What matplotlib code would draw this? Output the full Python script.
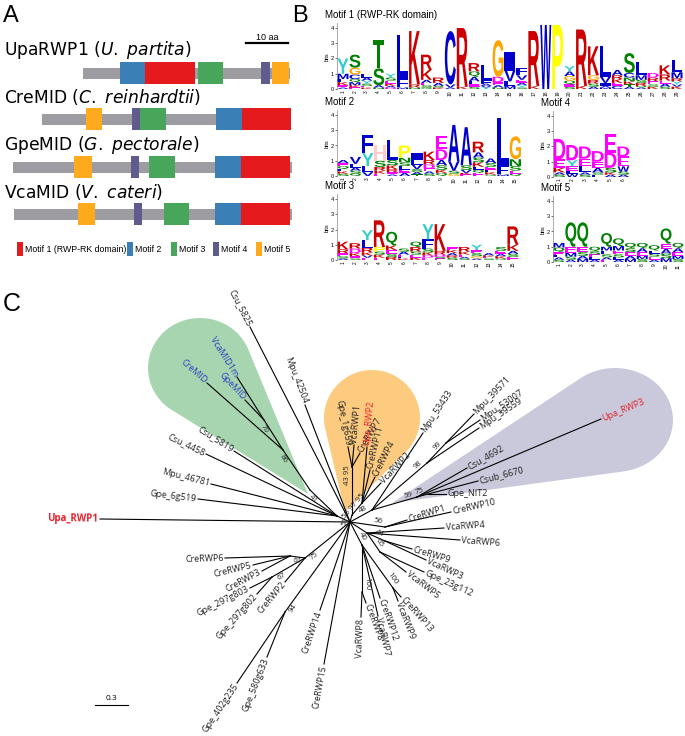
#!/usr/bin/env python3
"""
Motif architecture (A), MEME sequence logos (B) and unrooted RWP-RK tree (C).
"""
import numpy as np
import matplotlib
matplotlib.use("Agg")
import matplotlib.pyplot as plt
from matplotlib.patches import Rectangle, PathPatch, Polygon
from matplotlib.textpath import TextPath
from matplotlib.font_manager import FontProperties
from matplotlib.transforms import Affine2D

plt.rcParams["font.family"] = ["Liberation Sans", "DejaVu Sans"]
plt.rcParams["mathtext.fontset"] = "custom"
plt.rcParams["mathtext.rm"] = "DejaVu Sans"
plt.rcParams["mathtext.it"] = "DejaVu Sans:italic"

# ---------------- panel A data (positions in aa) ----------------
proteins = ["UpaRWP1", "CreMID", "GpeMID", "VcaMID"]
species = ["U. partita", "C. reinhardtii", "G. pectorale", "V. cateri"]
protein_span = [(16.7, 66.0), (6.9, 66.2), (0.0, 66.4), (0.2, 66.4)]
motif1_pos = [(31.4, 43.3), (54.5, 66.2), (54.3, 66.0), (54.3, 66.0)]
motif2_pos = [(25.5, 31.4), (48.3, 54.5), (48.1, 54.3), (48.1, 54.3)]
motif3_pos = [(44.0, 50.0), (30.2, 36.4), (32.4, 38.6), (36.0, 41.9)]
motif4_pos = [(59.0, 61.2), (28.3, 30.2), (28.1, 30.0), (28.8, 30.7)]
motif5_pos = [(61.7, 65.7), (17.4, 21.2), (14.5, 18.8), (15.5, 19.5)]
motif_names = ["Motif 1 (RWP-RK domain)", "Motif 2", "Motif 3", "Motif 4", "Motif 5"]
motif_colors = ["#E41A1C", "#3A7FB6", "#48A65B", "#5F5B8D", "#FFA91C"]

# ---------------- panel B data (letter:bits) ----------------
logo_motif1 = [
    "Y1.0 M0.35 K0.2 E0.15 L0.2 A0.1", "S0.85 G0.45 C0.3 M0.2 Q0.2 K0.15 E0.1",
    "L0.25 Y0.2 A0.2 S0.15 K0.1 E0.1", "T1.85 S1.1 A0.15 N0.1",
    "Y0.25 E0.2 S0.2 K0.15 D0.1 A0.1", "L2.85 F0.6 M0.1", "K3.5 R0.2 N0.1",
    "R1.0 K0.65 A0.2 S0.15 E0.15 Q0.1", "R0.35 A0.2 K0.1 S0.1", "C3.5 V0.2 A0.1",
    "R3.85 K0.15", "R0.55 Q0.35 A0.3 L0.2 S0.15 E0.15", "L1.0 F0.2 A0.15 Y0.1 V0.1",
    "G2.4 D0.35 E0.2 A0.15 N0.1", "I1.25 V0.7 L0.3 M0.2", "F0.5 V0.3 E0.2 Y0.15 A0.15 S0.1",
    "R3.6 K0.2", "W4.2", "P4.2", "Y0.35 G0.3 A0.3 Q0.25 S0.15 E0.15", "R3.7 K0.2",
    "K1.9 G0.3 R0.25 S0.2 A0.15", "L2.0 V0.4 I0.2 M0.1 A0.1", "A0.35 K0.25 R0.25 C0.2 E0.2",
    "S1.3 C0.3 N0.25 K0.2 A0.15 T0.15", "L0.9 M0.3 R0.2 S0.2 A0.1 Q0.1",
    "D0.3 R0.25 E0.2 K0.15 S0.15", "K0.6 R0.4 A0.2 E0.2 S0.15", "L0.8 M0.4 Y0.2 R0.2 K0.15 V0.15",
]
logo_motif2 = [
    "Q0.2 E0.2 A0.2 S0.15 K0.15 L0.15", "V0.45 L0.25 S0.2 A0.2 Q0.15", "F1.2 Y0.85 L0.4 V0.25",
    "H1.0 S0.4 R0.25 K0.2 E0.15", "L1.3 S0.35 K0.25 R0.2 E0.15 A0.1",
    "P0.8 N0.3 L0.25 S0.25 A0.2 E0.2", "I0.45 V0.3 L0.3 S0.2 A0.15 T0.1",
    "K0.55 R0.3 D0.25 E0.2 S0.15 A0.15", "E0.85 D0.7 A0.35 S0.3 Q0.2 K0.2",
    "A2.4 V0.6 S0.2 G0.15", "A2.5 S0.3 V0.2 E0.1 K0.1", "R0.7 A0.35 K0.3 S0.3 E0.2 Q0.2 L0.2",
    "A0.3 S0.25 E0.2 K0.15 L0.15 Q0.1", "L3.1 F0.6 M0.1", "G1.5 N0.45 S0.3 E0.2 Q0.15",
]
logo_motif3 = [
    "K0.5 R0.25 E0.2 S0.15 A0.1", "R0.35 D0.3 K0.2 E0.15 S0.1", "Y0.65 L0.5 R0.3 K0.2 E0.15 V0.15",
    "R1.75 P0.3 K0.2 E0.15 S0.2", "Q0.9 K0.3 E0.25 R0.2 S0.2", "A0.2 S0.2 E0.15 K0.1 L0.1",
    "Q0.35 R0.3 E0.2 S0.2 K0.15", "Y1.0 F0.6 S0.25 K0.2 E0.15 D0.15", "K1.75 R0.25 D0.15 E0.1 S0.1",
    "K0.2 E0.2 S0.15 R0.15 A0.15", "R0.3 K0.2 E0.15 S0.1 A0.1", "Y0.35 S0.2 E0.2 G0.15 A0.1",
    "A0.15 S0.1 E0.1 K0.1", "S0.25 E0.2 K0.15 A0.15 Q0.1", "R1.2 K0.4 E0.2 S0.2 A0.2",
]
logo_motif4 = [
    "D1.35 E0.55 K0.3 S0.15 A0.15", "D1.0 Y0.4 E0.3 W0.2 L0.2", "D0.8 E0.5 L0.4 S0.15 A0.15",
    "D0.7 E0.4 A0.3 L0.15 S0.15", "E1.2 D1.0 S0.3 A0.15 K0.15", "E0.65 D0.65 W0.35 S0.2 A0.15",
]
logo_motif5 = [
    "Q0.3 M0.3 E0.2 S0.15 A0.15 L0.15", "Q1.6 E0.4 M0.25 S0.2 A0.15", "Q1.6 E0.35 S0.25 M0.2 A0.2",
    "Q0.3 E0.2 S0.2 A0.15 L0.15", "Q0.9 L0.25 M0.25 S0.2 E0.15 A0.15",
    "Q0.5 M0.3 E0.25 S0.2 A0.15 L0.15", "Q0.35 E0.25 S0.25 M0.2 A0.2", "Q0.35 E0.25 S0.2 M0.2 A0.25",
    "Q0.35 E0.2 S0.2 A0.15 L0.2", "Q1.0 E0.35 S0.3 M0.25 A0.3", "Q0.35 E0.25 S0.2 A0.25 M0.2",
]

# ---------------- panel C data: unrooted tree layout ----------------
tree_names = [
    "root", "nL", "Upa_RWP1", "Gpe_6g519", "Mpu_46781", "Csu_4458", "Csu_5819",
    "n41", "n86", "CreMID", "n70", "GpeMID", "VcaMID1m", "Mpu_42504", "Csu_5825",
    "n51", "n43", "Gpe_1g659", "VcaRWP1", "CreRWP7", "n55", "Upa_RWP2", "CreRWP11",
    "CreRWP4", "VcaRWP2", "n48", "Mpu_53433", "n98", "n99", "Mpu_39571", "Mpu_53007",
    "Mpu_39559", "n59", "Upa_RWP3", "Csu_4692", "n75b", "Csub_6670", "Gpe_NIT2",
    "n56", "CreRWP1", "CreRWP10", "nV4", "VcaRWP4", "VcaRWP6", "n44", "CreRWP9", "VcaRWP3",
    "n65", "Gpe_23g112", "VcaRWP5", "n40", "n100a", "CreRWP13", "VcaRWP9", "CreRWP12",
    "VcaRWP7", "n100b", "CreRWP8", "VcaRWP8", "n75", "n61", "CreRWP6", "CreRWP5",
    "CreRWP3", "n67", "Gpe_297g803", "Gpe_297g802", "CreRWP2", "n94", "Gpe_580g633",
    "Gpe_402g235", "CreRWP14", "CreRWP15",
]
tree_parent = [
    None, "root", "root", "nL", "nL", "nL", "nL",
    "nL", "n41", "n86", "n86", "n70", "n70", "root", "root",
    "root", "n51", "n43", "n43", "n43", "n51", "n55", "n55",
    "n55", "n55", "root", "n48", "n48", "n98", "n99", "n99",
    "n98", "n48", "n59", "n59", "n59", "n75b", "n75b",
    "root", "n56", "n56", "root", "nV4", "nV4", "nV4", "n44", "n44",
    "nV4", "n65", "n65", "root", "n40", "n100a", "n100a", "n40",
    "n40", "n40", "n100b", "n100b", "root", "n75", "n61", "n61",
    "n61", "n75", "n67", "n67", "n75", "root", "n94",
    "n94", "root", "root",
]
tree_x = [
    350, 337, 100, 198, 211, 206, 234,
    310, 283, 207, 264, 245, 237, 305, 250,
    352, 352, 348, 354, 360, 362, 367, 370,
    375, 381, 372, 423, 427, 446, 474, 480,
    479, 417, 601, 467, 428, 478, 446,
    385, 407, 451, 367, 444, 460, 385, 412, 426,
    380, 424, 406, 362, 393, 401, 398, 380,
    378, 362, 366, 361, 305, 290, 225, 253,
    262, 272, 250, 257, 285, 285, 267,
    237, 320, 324,
]
tree_y = [
    522, 516, 519, 499, 484, 454, 451,
    490, 450, 383, 420, 400, 377, 405, 327,
    515, 467, 447, 445, 453, 503, 447, 470,
    477, 483, 510, 433, 463, 443, 414, 420,
    428, 497, 419, 468, 494, 481, 494,
    527, 520, 512, 533, 528, 540, 541, 549, 560,
    552, 572, 572, 545, 588, 597, 601, 598,
    616, 592, 603, 617, 558, 556, 558, 565,
    571, 577, 588, 594, 582, 612, 657,
    683, 610, 664,
]
support = {"n41": "41", "n86": "86", "n70": "70", "n51": "51", "n43": "43 95",
           "n55": "55 97 95", "n48": "48", "n98": "98", "n99": "99", "n59": "59",
           "n75b": "75", "n56": "56", "n44": "44", "n65": "65", "n40": "40",
           "n100a": "100", "n100b": "100", "n75": "75", "n61": "61", "n67": "67", "n94": "94"}
red_tips = ["Upa_RWP1", "Upa_RWP2", "Upa_RWP3"]
blue_tips = ["CreMID", "GpeMID", "VcaMID1m"]
# clade highlights: ellipse (cx, cy, rx, ry) + pointed end
clade_shapes = [((200, 368, 52, 50), (308, 494), "#A6D5AF"),
                ((372, 418, 48, 48), (345, 512), "#FCCB80"),
                ((615, 420, 58, 52), (392, 503), "#C9C9DB")]
scale_bar_units = 0.3
px_per_unit = 110

W, H = 685, 736
fig = plt.figure(figsize=(W / 100, H / 100), dpi=100)
ax = fig.add_axes([0, 0, 1, 1])
ax.set_xlim(0, W)
ax.set_ylim(H, 0)
ax.axis("off")

# panel letters
ax.text(3, 5, "A", fontsize=17, va="top")
ax.text(292, 5, "B", fontsize=17, va="top")
ax.text(3, 292, "C", fontsize=18, va="top")

# ---------------- panel A ----------------
AA_PX, A_X0 = 4.2, 13
label_y = [50, 97, 145, 192]
bar_y = [73, 119, 167, 214]
gray = "#9C9CA2"
for i, name in enumerate(proteins):
    sp = species[i].replace(" ", r"\ ")
    ax.text(4, label_y[i], name + " ($\\it{" + sp + "}$)", fontsize=12.3, va="center",
            family="DejaVu Sans")
    s, e = protein_span[i]
    ax.add_patch(Rectangle((A_X0 + s * AA_PX, bar_y[i] - 5.5), (e - s) * AA_PX, 11,
                           fc=gray, ec="none"))
    for pos, col in zip([motif1_pos, motif2_pos, motif3_pos, motif4_pos, motif5_pos],
                        motif_colors):
        ms, me = pos[i]
        ax.add_patch(Rectangle((A_X0 + ms * AA_PX, bar_y[i] - 11), (me - ms) * AA_PX, 22,
                               fc=col, ec="none"))

ax.plot([246, 246 + 10 * AA_PX], [43, 43], color="black", lw=1.6)
ax.text(267, 37, "10 aa", fontsize=6.5, ha="center", va="center")

legend_x = [17, 127, 171, 213, 256]
for lx, name, col in zip(legend_x, motif_names, motif_colors):
    ax.add_patch(Rectangle((lx, 242), 6.5, 14, fc=col, ec="none"))
    ax.text(lx + 8, 249, name, fontsize=6.3, va="center")

# ---------------- panel B ----------------
LOGO_COLORS = {}
for c in "ACFILVWM":
    LOGO_COLORS[c] = "#0000CC"
for c in "NQST":
    LOGO_COLORS[c] = "#008000"
for c in "DE":
    LOGO_COLORS[c] = "#FF00FF"
for c in "KR":
    LOGO_COLORS[c] = "#CC0000"
LOGO_COLORS.update({"H": "#FFCCCC", "G": "#FFA500", "P": "#FFFF00", "Y": "#33CCCC"})
logo_font = FontProperties(family="Liberation Sans", weight="bold")


def draw_letter(lax, ch, x, y, w, h, color):
    tp = TextPath((0, 0), ch, size=1, prop=logo_font)
    bb = tp.get_extents()
    tr = Affine2D().translate(-bb.x0, -bb.y0).scale(w / bb.width, h / bb.height).translate(x, y)
    lax.add_patch(PathPatch(tr.transform_path(tp), fc=color, lw=0))


def draw_logo(title, stacks, left, spacing, base):
    n = len(stacks)
    right = left + n * spacing
    top = base - 4.3 * 15.25
    lax = fig.add_axes([left / W, 1 - base / H, (right - left) / W, (base - top) / H])
    for i, s in enumerate(stacks):
        items = sorted([(t[0], float(t[1:])) for t in s.split()], key=lambda t: t[1])
        y = 0
        for ch, h in items:
            draw_letter(lax, ch, i + 1 - 0.46, y, 0.92, h, LOGO_COLORS[ch])
            y += h
    lax.set_xlim(0.5, n + 0.5)
    lax.set_ylim(0, 4.3)
    lax.patch.set_alpha(0)
    for sp in ["top", "right", "bottom"]:
        lax.spines[sp].set_visible(False)
    lax.spines["left"].set_linewidth(0.5)
    lax.spines["left"].set_color("#888888")
    lax.set_yticks(range(5))
    lax.tick_params(axis="y", labelsize=4, length=1.5, width=0.4, pad=0.8)
    lax.set_xticks(range(1, n + 1))
    lax.set_xticklabels([str(k) for k in range(1, n + 1)], rotation=90, fontsize=3.5)
    lax.tick_params(axis="x", length=0, pad=1)
    lax.set_ylabel("bits", fontsize=4, labelpad=1)
    ax.text(left - 12, top - 8, title, fontsize=7, va="center")


draw_logo("Motif 1 (RWP-RK domain)", logo_motif1, 337, 11.93, 89)
draw_logo("Motif 2", logo_motif2, 337, 12.3, 176)
draw_logo("Motif 4", logo_motif4, 553, 12.8, 177)
draw_logo("Motif 3", logo_motif3, 337, 12.14, 260)
draw_logo("Motif 5", logo_motif5, 553, 11.9, 262)

# ---------------- panel C ----------------


def convex_hull(pts):
    pts = sorted(map(tuple, pts))

    def cross(o, a, b):
        return (a[0] - o[0]) * (b[1] - o[1]) - (a[1] - o[1]) * (b[0] - o[0])
    lower, upper = [], []
    for p in pts:
        while len(lower) >= 2 and cross(lower[-2], lower[-1], p) <= 0:
            lower.pop()
        lower.append(p)
    for p in reversed(pts):
        while len(upper) >= 2 and cross(upper[-2], upper[-1], p) <= 0:
            upper.pop()
        upper.append(p)
    return lower[:-1] + upper[:-1]


t = np.linspace(0, 2 * np.pi, 90, endpoint=False)
for (cx, cy, rx, ry), tip, col in clade_shapes:
    pts = list(zip(cx + rx * np.cos(t), cy + ry * np.sin(t))) + [tip]
    ax.add_patch(Polygon(convex_hull(pts), closed=True, fc=col, ec="none", zorder=0))

pos = {n: (x, y) for n, x, y in zip(tree_names, tree_x, tree_y)}
parents = set(p for p in tree_parent if p)
for n, p in zip(tree_names, tree_parent):
    if p is None:
        continue
    (x0, y0), (x1, y1) = pos[p], pos[n]
    ax.plot([x0, x1], [y0, y1], color="black", lw=0.8, zorder=2)
    ang = np.degrees(np.arctan2(-(y1 - y0), x1 - x0))
    d = np.array([x1 - x0, y1 - y0]) / np.hypot(x1 - x0, y1 - y0)
    if n not in parents:
        color = "#E8202A" if n in red_tips else ("#2B3FC2" if n in blue_tips else "#222222")
        if abs(ang) > 90:
            rot, ha = ang - 180 if ang > 0 else ang + 180, "right"
        else:
            rot, ha = ang, "left"
        bold = "bold" if n == "Upa_RWP1" else "normal"
        ax.text(x1 + d[0] * 1.5, y1 + d[1] * 1.5, n, fontsize=6.5 if n != "Upa_RWP1" else 7,
                family=["Open Sans", "DejaVu Sans"], color=color, weight=bold,
                rotation=rot, rotation_mode="anchor", ha=ha, va="center", zorder=3)
    elif n in support:
        rot = ang if abs(ang) <= 90 else (ang - 180 if ang > 0 else ang + 180)
        off = np.array([d[1], -d[0]]) * 4.5
        ax.text(x1 - d[0] * 8 + off[0], y1 - d[1] * 8 + off[1], support[n], fontsize=5.6,
                family=["Open Sans", "DejaVu Sans"], color="#222222", rotation=rot,
                rotation_mode="anchor", ha="center", va="center", zorder=3)

bar_len = scale_bar_units * px_per_unit
ax.plot([95, 95 + bar_len], [705, 705], color="black", lw=0.8)
ax.text(95 + bar_len / 2, 698, str(scale_bar_units), fontsize=6, ha="center", va="center",
        family=["Open Sans", "DejaVu Sans"])

fig.savefig("out.png", dpi=100)
